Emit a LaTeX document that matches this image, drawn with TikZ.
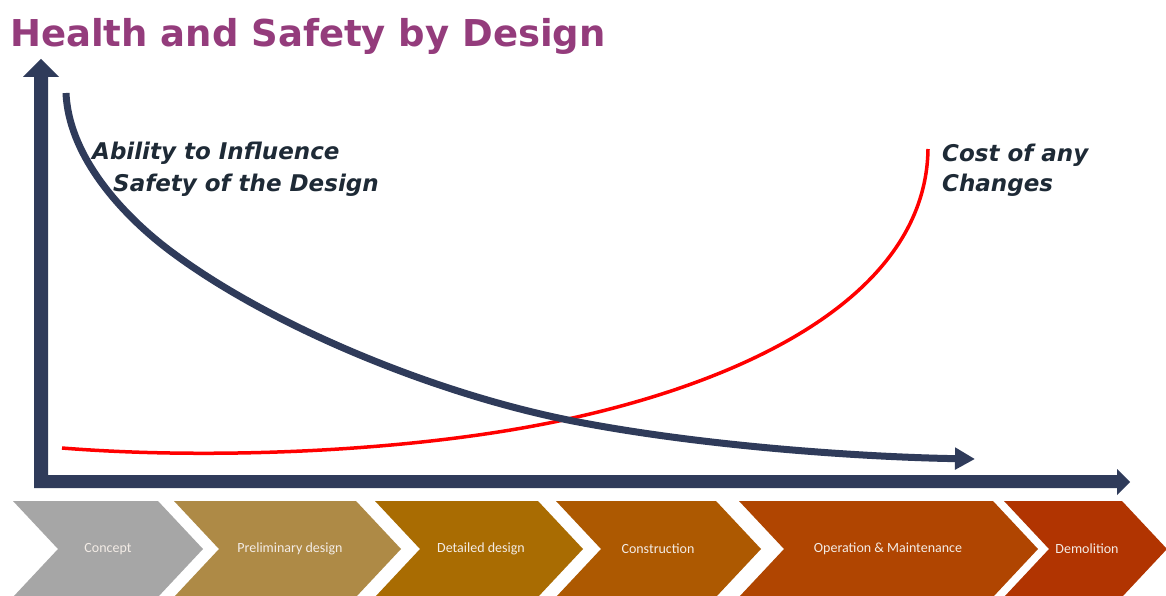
\documentclass[tikz,border=0pt]{standalone}
\usepackage{fontspec}
\setmainfont{DejaVu Sans}
\newfontfamily\calib{Carlito}
\usetikzlibrary{arrows.meta}
\definecolor{titlec}{HTML}{943C7C}
\definecolor{navy}{HTML}{2F3B5A}
\definecolor{labc}{HTML}{1E2A36}
\definecolor{redc}{HTML}{FF0000}
\definecolor{cA}{HTML}{A6A6A6}
\definecolor{cB}{HTML}{AE8A46}
\definecolor{cC}{HTML}{A96C02}
\definecolor{cD}{HTML}{AD5901}
\definecolor{cE}{HTML}{B04501}
\definecolor{cF}{HTML}{B13401}
\definecolor{chtext}{HTML}{F3ECE6}
\tikzset{
  curvelabel/.style={anchor=base west, inner sep=0pt, text=labc,
    font=\fontsize{23}{23}\selectfont\bfseries\itshape},
  phase/.style={inner sep=0pt, text=chtext, font=\calib\fontsize{14}{14}\selectfont},
  ability/.style={draw=navy, line width=7pt},
  cost/.style={draw=redc, line width=3.5pt},
}
\begin{document}
\begin{tikzpicture}[x=1pt,y=-1pt]
\useasboundingbox[fill=white] (0,0) rectangle (1166,596);

% title
\node[anchor=base west, inner sep=0pt, text=titlec,
  font=\fontsize{37}{37}\selectfont\bfseries] (title) at (10,47) {Health and Safety by Design};

% phase chevrons
\fill[cA] (13,501) -- (158,501) -- (203,549) -- (158,597) -- (13,597) -- (58,549) -- cycle;
\fill[cB] (174,501) -- (356,501) -- (401,549) -- (356,597) -- (174,597) -- (219,549) -- cycle;
\fill[cC] (375,501) -- (538,501) -- (583,549) -- (538,597) -- (375,597) -- (420,549) -- cycle;
\fill[cD] (556,501) -- (716,501) -- (761,549) -- (716,597) -- (556,597) -- (601,549) -- cycle;
\fill[cE] (739,501) -- (993,501) -- (1038,549) -- (993,597) -- (739,597) -- (784,549) -- cycle;
\fill[cF] (1004,501) -- (1122,501) -- (1167,549) -- (1122,597) -- (1004,597) -- (1049,549) -- cycle;
\node[phase] (p1) at (108,549) {Concept};
\node[phase] (p2) at (290,549) {Preliminary design};
\node[phase] (p3) at (481,549) {Detailed design};
\node[phase] (p4) at (658,549) {Construction};
\node[phase] (p5) at (888,549) {Operation \& Maintenance};
\node[phase] (p6) at (1087,549) {Demolition};

% axes
\fill[navy] (34,488) -- (34,77) -- (23,77) -- (41,59) -- (59,77) -- (48,77)
  -- (48,475) -- (1117,475) -- (1117,469) -- (1130,482) -- (1117,495)
  -- (1117,488) -- cycle;

% cost curve
\draw[cost] (62,448) .. controls (212,460) and (418,452) .. (568,419)
  .. controls (760,377) and (926,290) .. (928,149);

% ability curve
\draw[ability, -{Triangle[length=20pt,width=21pt]}] (66,93)
  .. controls (69,160) and (128,220) .. (173,253)
  .. controls (270,325) and (430,392) .. (568,420)
  .. controls (698,446) and (860,457) .. (975,459);

% labels
\node[curvelabel] (abil1) at (92,160) {Ability to Influence};
\node[curvelabel] (abil2) at (113,192) {Safety of the Design};
\node[curvelabel] (cost1) at (942,161) {Cost of any};
\node[curvelabel] (cost2) at (942,192) {Changes};
\end{tikzpicture}
\end{document}
